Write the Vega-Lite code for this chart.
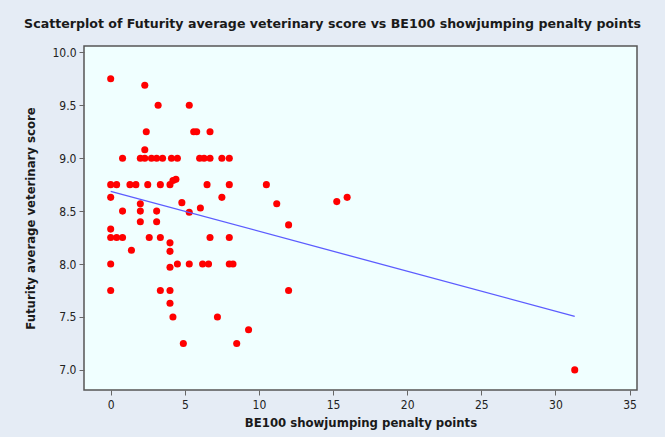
{
  "$schema": "https://vega.github.io/schema/vega-lite/v6.json",
  "autosize": "none",
  "width": 553,
  "height": 344,
  "padding": {"left": 84, "top": 46, "right": 28, "bottom": 47},
  "background": "#e5ecf5",
  "title": {
    "text": "Scatterplot of Futurity average veterinary score vs BE100 showjumping penalty points",
    "font": "DejaVu Sans",
    "fontSize": 12.6,
    "fontWeight": "bold",
    "color": "#1a1a1a",
    "anchor": "middle",
    "dx": -28,
    "offset": 15
  },
  "config": {
    "view": {"fill": "#f0ffff", "stroke": "#555555", "strokeWidth": 1.5},
    "axis": {
      "labelFont": "DejaVu Sans Condensed",
      "labelFontSize": 12,
      "labelColor": "#222222",
      "titleFont": "DejaVu Sans Condensed",
      "titleFontSize": 13,
      "titleFontWeight": "bold",
      "titleColor": "#1a1a1a",
      "domain": false,
      "grid": false,
      "tickColor": "#666666",
      "tickSize": 5
    }
  },
  "data": {
    "values": [
      {"penalty": 0, "score": 9.75},
      {"penalty": 2.3, "score": 9.69},
      {"penalty": 3.2, "score": 9.5},
      {"penalty": 5.3, "score": 9.5},
      {"penalty": 2.4, "score": 9.25},
      {"penalty": 5.6, "score": 9.25},
      {"penalty": 5.8, "score": 9.25},
      {"penalty": 6.7, "score": 9.25},
      {"penalty": 2.3, "score": 9.08},
      {"penalty": 0.8, "score": 9.0},
      {"penalty": 2.0, "score": 9.0},
      {"penalty": 2.3, "score": 9.0},
      {"penalty": 2.75, "score": 9.0},
      {"penalty": 3.1, "score": 9.0},
      {"penalty": 3.5, "score": 9.0},
      {"penalty": 4.1, "score": 9.0},
      {"penalty": 4.5, "score": 9.0},
      {"penalty": 6.0, "score": 9.0},
      {"penalty": 6.3, "score": 9.0},
      {"penalty": 6.7, "score": 9.0},
      {"penalty": 7.5, "score": 9.0},
      {"penalty": 8.0, "score": 9.0},
      {"penalty": 0, "score": 8.75},
      {"penalty": 0.4, "score": 8.75},
      {"penalty": 1.3, "score": 8.75},
      {"penalty": 1.7, "score": 8.75},
      {"penalty": 2.5, "score": 8.75},
      {"penalty": 3.35, "score": 8.75},
      {"penalty": 4.0, "score": 8.75},
      {"penalty": 4.2, "score": 8.79},
      {"penalty": 4.4, "score": 8.8},
      {"penalty": 6.5, "score": 8.75},
      {"penalty": 8.0, "score": 8.75},
      {"penalty": 10.5, "score": 8.75},
      {"penalty": 0, "score": 8.63},
      {"penalty": 7.5, "score": 8.63},
      {"penalty": 15.95, "score": 8.63},
      {"penalty": 15.25, "score": 8.59},
      {"penalty": 2.0, "score": 8.57},
      {"penalty": 4.8, "score": 8.58},
      {"penalty": 11.2, "score": 8.57},
      {"penalty": 6.05, "score": 8.53},
      {"penalty": 0.8, "score": 8.5},
      {"penalty": 2.0, "score": 8.5},
      {"penalty": 3.1, "score": 8.5},
      {"penalty": 5.3, "score": 8.49},
      {"penalty": 2.0, "score": 8.4},
      {"penalty": 3.1, "score": 8.4},
      {"penalty": 12.0, "score": 8.37},
      {"penalty": 0, "score": 8.33},
      {"penalty": 0, "score": 8.25},
      {"penalty": 0.4, "score": 8.25},
      {"penalty": 0.8, "score": 8.25},
      {"penalty": 2.6, "score": 8.25},
      {"penalty": 3.35, "score": 8.25},
      {"penalty": 6.7, "score": 8.25},
      {"penalty": 8.0, "score": 8.25},
      {"penalty": 4.0, "score": 8.2},
      {"penalty": 1.4, "score": 8.13},
      {"penalty": 4.0, "score": 8.12},
      {"penalty": 0, "score": 8.0},
      {"penalty": 4.0, "score": 7.97},
      {"penalty": 4.5, "score": 8.0},
      {"penalty": 5.3, "score": 8.0},
      {"penalty": 6.2, "score": 8.0},
      {"penalty": 6.6, "score": 8.0},
      {"penalty": 8.0, "score": 8.0},
      {"penalty": 8.25, "score": 8.0},
      {"penalty": 0, "score": 7.75},
      {"penalty": 3.35, "score": 7.75},
      {"penalty": 4.0, "score": 7.75},
      {"penalty": 12.0, "score": 7.75},
      {"penalty": 4.0, "score": 7.63},
      {"penalty": 4.2, "score": 7.5},
      {"penalty": 7.2, "score": 7.5},
      {"penalty": 9.3, "score": 7.38},
      {"penalty": 4.9, "score": 7.25},
      {"penalty": 8.5, "score": 7.25},
      {"penalty": 31.3, "score": 7.0}
    ]
  },
  "layer": [
    {
      "mark": {"type": "circle", "color": "#ff0000", "opacity": 1, "size": 50},
      "encoding": {
        "x": {
          "field": "penalty",
          "type": "quantitative",
          "scale": {"domain": [-1.8, 35.5], "nice": false, "zero": false},
          "axis": {"values": [0, 5, 10, 15, 20, 25, 30, 35], "title": "BE100 showjumping penalty points", "titlePadding": 6, "labelPadding": 4}
        },
        "y": {
          "field": "score",
          "type": "quantitative",
          "scale": {"domain": [6.81, 10.06], "nice": false, "zero": false},
          "axis": {"values": [7.0, 7.5, 8.0, 8.5, 9.0, 9.5, 10.0], "format": ".1f", "title": "Futurity average veterinary score", "titlePadding": 14, "labelPadding": 3}
        }
      }
    },
    {
      "transform": [{"regression": "score", "on": "penalty"}],
      "mark": {"type": "line", "color": "#5c5cff", "strokeWidth": 1.3},
      "encoding": {
        "x": {"field": "penalty", "type": "quantitative"},
        "y": {"field": "score", "type": "quantitative"}
      }
    }
  ]
}
